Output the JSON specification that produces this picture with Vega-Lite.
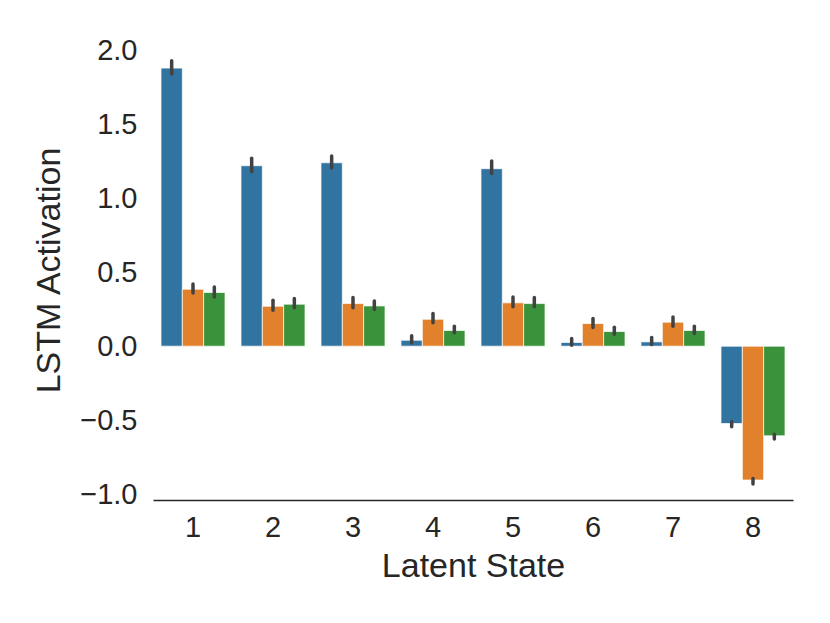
{
  "$schema": "https://vega.github.io/schema/vega-lite/v6.json",
  "width": 640,
  "height": 460,
  "autosize": {"type": "none"},
  "padding": {"left": 153, "top": 40, "right": 37, "bottom": 123},
  "background": "white",
  "config": {
    "view": {"stroke": null},
    "font": "Liberation Sans",
    "axis": {"grid": false, "ticks": false, "labelFont": "Liberation Sans", "titleFont": "Liberation Sans", "labelColor": "#262626", "titleColor": "#262626", "titleFontWeight": "normal"}
  },
  "data": {
    "values": [
      {"state": "1", "g": "a", "mean": 1.88, "lo": 1.84, "hi": 1.93},
      {"state": "1", "g": "b", "mean": 0.385, "lo": 0.36, "hi": 0.42},
      {"state": "1", "g": "c", "mean": 0.363, "lo": 0.333, "hi": 0.40},
      {"state": "2", "g": "a", "mean": 1.22, "lo": 1.18, "hi": 1.27},
      {"state": "2", "g": "b", "mean": 0.27, "lo": 0.243, "hi": 0.31},
      {"state": "2", "g": "c", "mean": 0.284, "lo": 0.259, "hi": 0.322},
      {"state": "3", "g": "a", "mean": 1.24, "lo": 1.205, "hi": 1.286},
      {"state": "3", "g": "b", "mean": 0.288, "lo": 0.259, "hi": 0.329},
      {"state": "3", "g": "c", "mean": 0.272, "lo": 0.248, "hi": 0.306},
      {"state": "4", "g": "a", "mean": 0.04, "lo": 0.022, "hi": 0.07},
      {"state": "4", "g": "b", "mean": 0.182, "lo": 0.158, "hi": 0.221},
      {"state": "4", "g": "c", "mean": 0.106, "lo": 0.09, "hi": 0.135},
      {"state": "5", "g": "a", "mean": 1.2, "lo": 1.167, "hi": 1.252},
      {"state": "5", "g": "b", "mean": 0.293, "lo": 0.266, "hi": 0.333},
      {"state": "5", "g": "c", "mean": 0.288, "lo": 0.266, "hi": 0.329},
      {"state": "6", "g": "a", "mean": 0.025, "lo": 0.007, "hi": 0.052},
      {"state": "6", "g": "b", "mean": 0.153, "lo": 0.126, "hi": 0.187},
      {"state": "6", "g": "c", "mean": 0.099, "lo": 0.081, "hi": 0.128},
      {"state": "7", "g": "a", "mean": 0.029, "lo": 0.011, "hi": 0.059},
      {"state": "7", "g": "b", "mean": 0.162, "lo": 0.135, "hi": 0.198},
      {"state": "7", "g": "c", "mean": 0.106, "lo": 0.086, "hi": 0.135},
      {"state": "8", "g": "a", "mean": -0.523, "lo": -0.545, "hi": -0.511},
      {"state": "8", "g": "b", "mean": -0.905, "lo": -0.932, "hi": -0.894},
      {"state": "8", "g": "c", "mean": -0.606, "lo": -0.628, "hi": -0.595}
    ]
  },
  "encoding": {
    "x": {
      "field": "state", "type": "nominal",
      "scale": {"paddingInner": 0.2, "paddingOuter": 0.1},
      "axis": {"title": "Latent State", "labelAngle": 0, "labelFontSize": 29, "titleFontSize": 34, "labelPadding": 13, "titlePadding": 7, "domainColor": "#262626", "domainWidth": 1.5}
    },
    "xOffset": {"field": "g", "type": "nominal", "scale": {"paddingInner": 0, "paddingOuter": 0}}
  },
  "layer": [
    {
      "mark": {"type": "bar", "stroke": "white", "strokeWidth": 1, "strokeOpacity": 0.7},
      "encoding": {
        "y": {
          "field": "mean", "type": "quantitative",
          "scale": {"domain": [-1.04, 2.07], "nice": false, "zero": false},
          "axis": {"title": "LSTM Activation", "values": [-1, -0.5, 0, 0.5, 1, 1.5, 2], "format": ".1f", "domain": false, "labelFontSize": 29, "titleFontSize": 34, "labelPadding": 16, "titlePadding": 13}
        },
        "color": {"field": "g", "type": "nominal", "legend": null, "scale": {"domain": ["a", "b", "c"], "range": ["#3274a1", "#e1812c", "#3a923a"]}}
      }
    },
    {
      "mark": {"type": "rule", "color": "#424242", "strokeWidth": 3.5, "strokeCap": "round"},
      "encoding": {
        "y": {"field": "lo", "type": "quantitative"},
        "y2": {"field": "hi"}
      }
    }
  ]
}
